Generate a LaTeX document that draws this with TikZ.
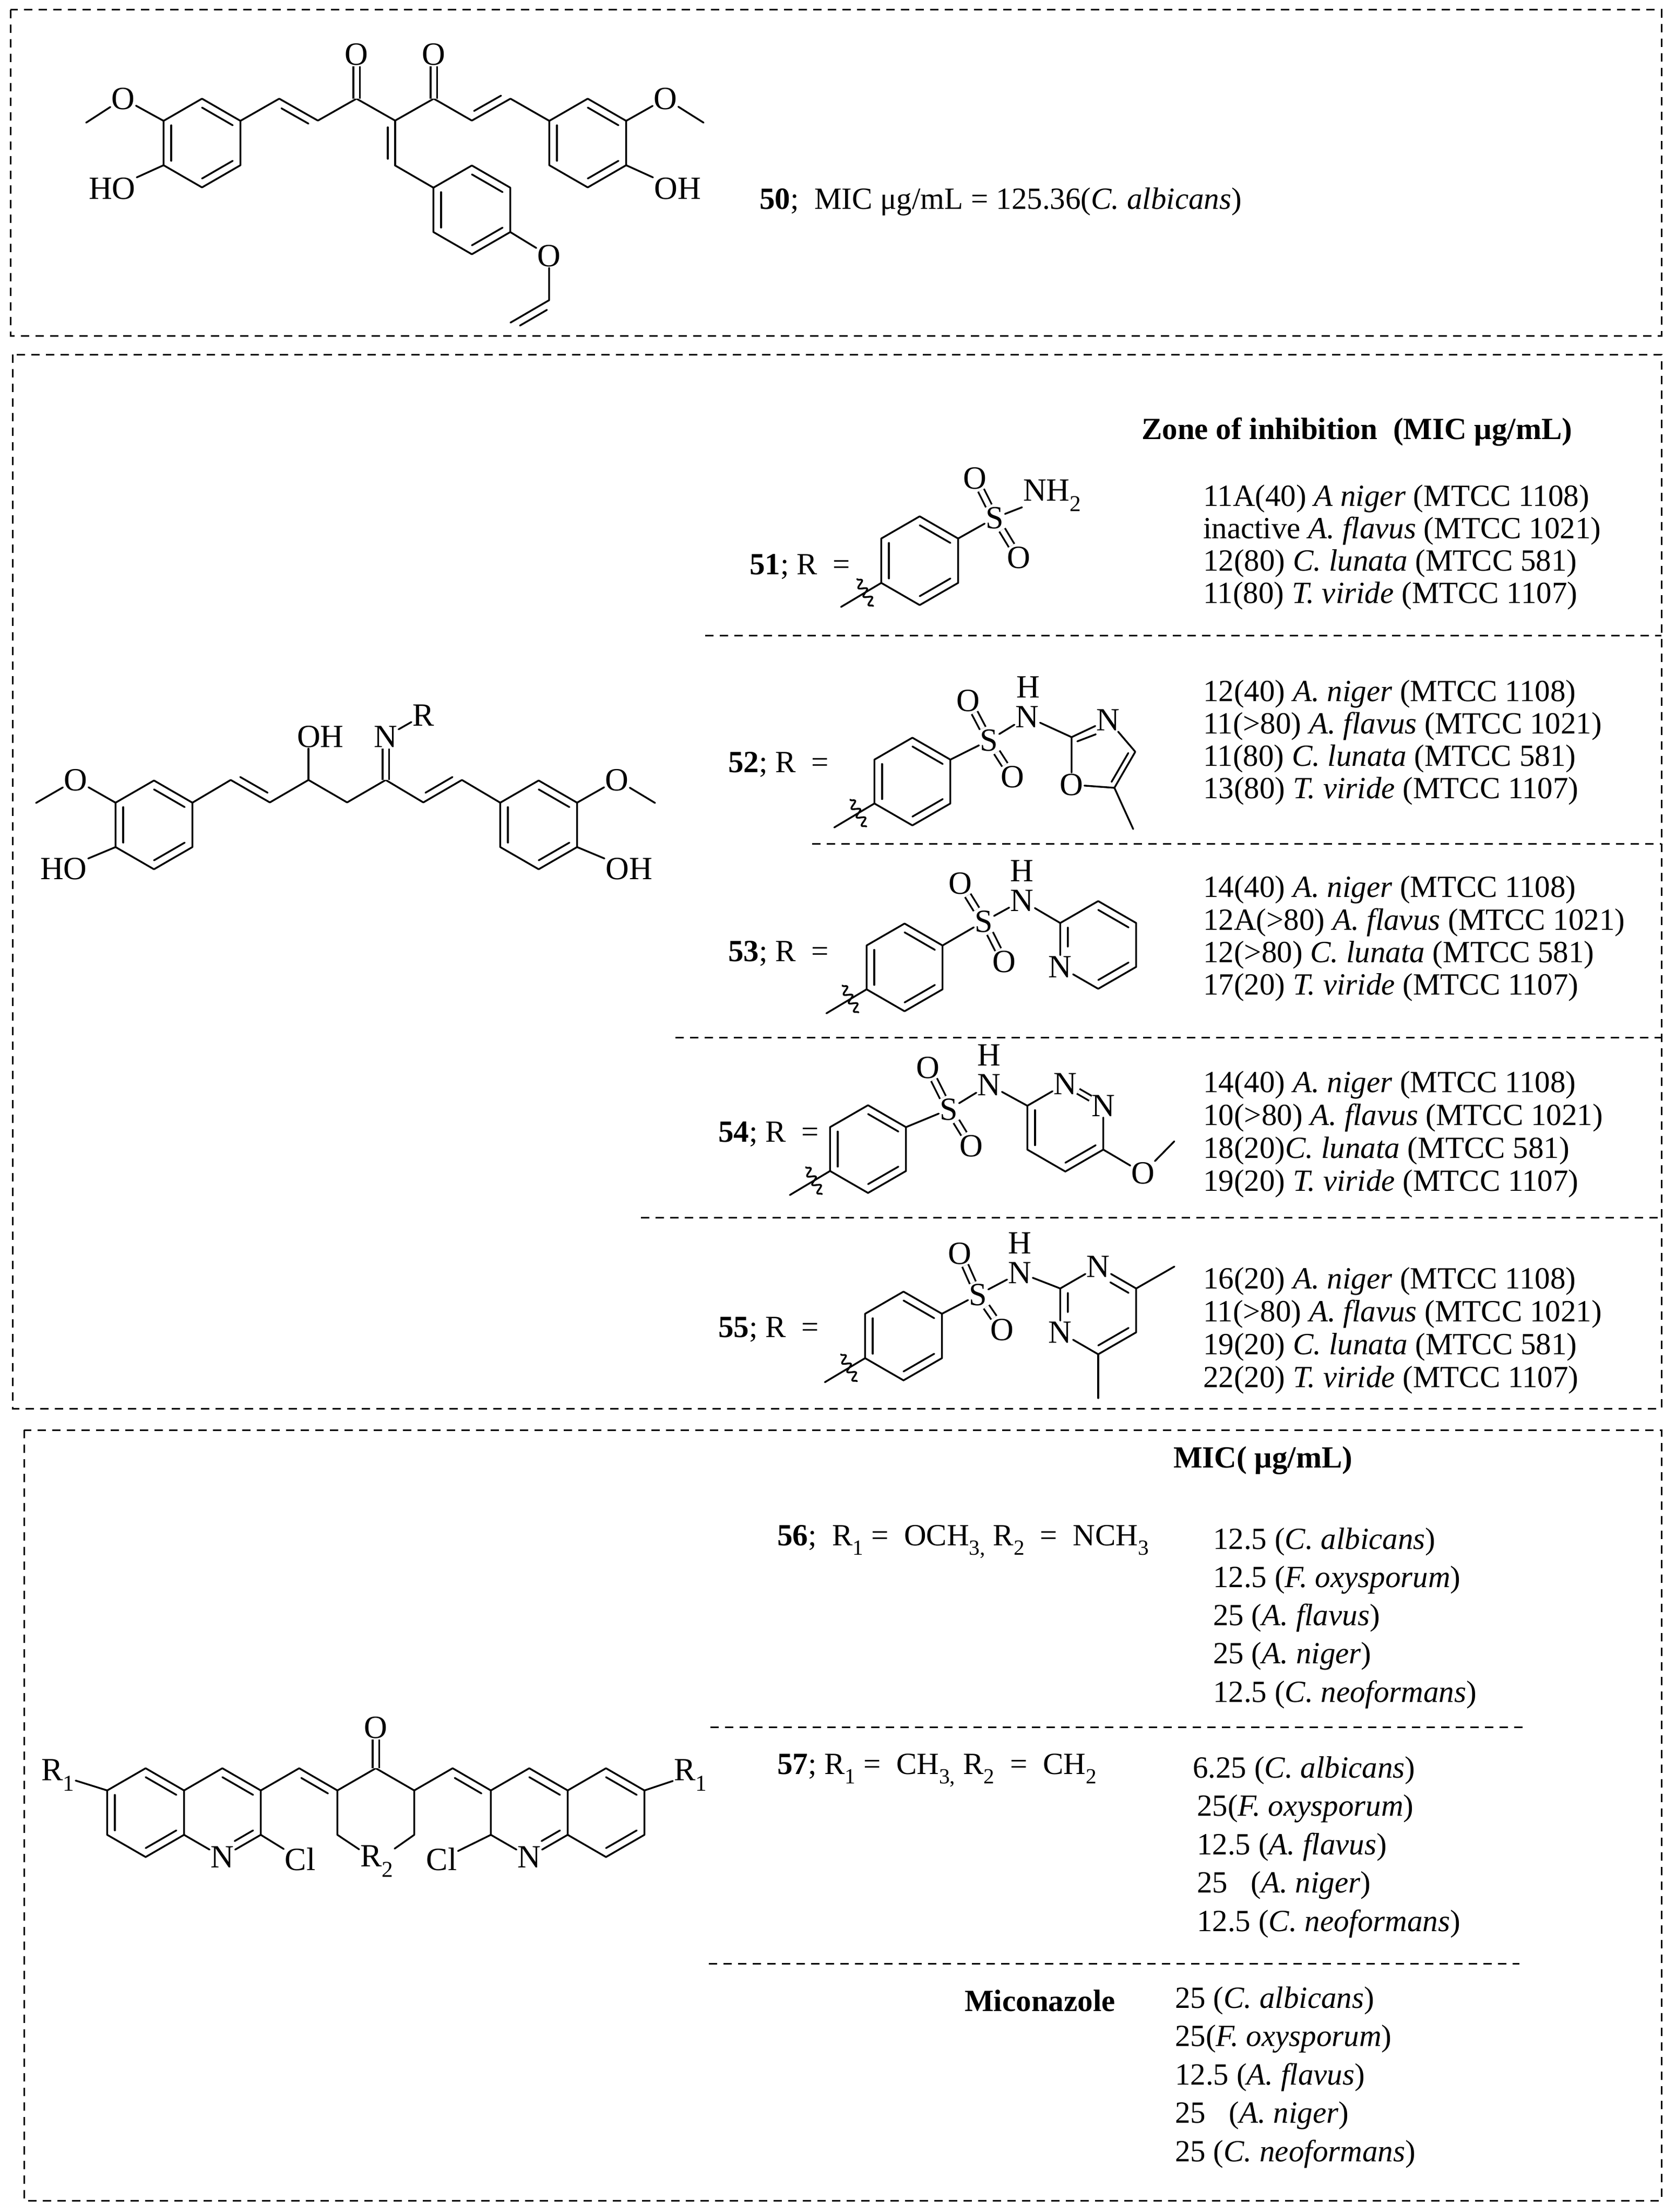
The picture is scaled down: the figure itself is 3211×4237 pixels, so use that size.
\documentclass[tikz,border=0pt]{standalone}
\usepackage{fontspec}
\setmainfont{Liberation Serif}
\usetikzlibrary{calc,decorations.pathmorphing}
\newcommand\af{\fontsize{62}{66}\selectfont}
\newcommand\tf{\fontsize{59}{63}\selectfont}
\newcommand\hexat[4]{%
 \coordinate (#1c) at (#2,#3);
 \coordinate (#11) at ($(#1c)+(0,-#4)$);
 \coordinate (#12) at ($(#1c)+(0.866*#4,-0.5*#4)$);
 \coordinate (#13) at ($(#1c)+(0.866*#4,0.5*#4)$);
 \coordinate (#14) at ($(#1c)+(0,#4)$);
 \coordinate (#15) at ($(#1c)+(-0.866*#4,0.5*#4)$);
 \coordinate (#16) at ($(#1c)+(-0.866*#4,-0.5*#4)$);}
\newcommand\ring[1]{\draw[bond] (#11)--(#12)--(#13)--(#14)--(#15)--(#16)--cycle;}
\newcommand\inb[3]{\draw[bond] ($(#1)!0.2!(#3)$) -- ($(#2)!0.2!(#3)$);}
\newcommand\dside[3]{\draw[bond] ($(#1)!0.15!(#2)!#3!90:(#2)$) -- ($(#2)!0.15!(#1)!#3!-90:(#1)$);}
\newcommand\wavy[1]{%
 \coordinate (#1e) at ($(#15)+(-77,46)$);
 \draw[bond] (#15) -- (#1e);
 \coordinate (#1m) at ($(#15)!0.4!(#1e)$);
 \draw[bond,decorate,decoration={snake,amplitude=7pt,segment length=19pt}] ($(#1m)!30pt!90:(#1e)$) -- ($(#1m)!30pt!-90:(#1e)$);}
\begin{document}
\begin{tikzpicture}[x=1pt,y=-1pt,
 bond/.style={line width=3.4pt,line cap=round,line join=round},
 dbond/.style={bond,double,double distance=9pt,line cap=butt},
 atm/.style={inner sep=2pt,font=\af},
 tx/.style={anchor=west,inner sep=0pt,font=\tf},
 frame/.style={line width=3pt,dash pattern=on 16pt off 12pt},
 sep/.style={line width=3pt,dash pattern=on 16pt off 12pt}]
\useasboundingbox (0,0) rectangle (3211,4237);
\draw[frame] (20,19) rectangle (3183,643);
\draw[frame] (24,679) rectangle (3183,2698);
\draw[frame] (46,2739) rectangle (3183,4215);
% ---------------- compound 50
\hexat{la}{387}{274}{85} \ring{la}
\inb{la1}{la2}{lac} \inb{la6}{la5}{lac} \inb{la3}{la4}{lac}
\node[atm] (olA) at (236,189) {O};
\coordinate (mlA) at (165,235);
\draw[bond] (la6) -- (olA) -- (mlA);
\node[atm] (hoA) at (215,361) {HO};
\draw[bond] (la5) -- (hoA);
\coordinate (b1) at (535,189); \coordinate (b2) at (609,231);
\coordinate (b3) at (683,189); \coordinate (b4) at (757,231);
\coordinate (b5) at (831,189); \coordinate (b6) at (904,231);
\coordinate (b7) at (978,189);
\hexat{ra}{1126}{274}{85} \ring{ra}
\inb{ra1}{ra2}{rac} \inb{ra6}{ra5}{rac} \inb{ra3}{ra4}{rac}
\draw[bond] (la2)--(b1)--(b2)--(b3)--(b4)--(b5)--(b6)--(b7)--(ra6);
\dside{b1}{b2}{-14pt} \dside{b6}{b7}{14pt}
\node[atm] (o1) at (683,104) {O}; \node[atm] (o2) at (831,104) {O};
\draw[dbond] (b3) -- (o1); \draw[dbond] (b5) -- (o2);
\node[atm] (orA) at (1275,189) {O}; \coordinate (mrA) at (1348,235);
\draw[bond] (ra2) -- (orA) -- (mrA);
\node[atm] (ohA) at (1298,361) {OH};
\draw[bond] (ra3) -- (ohA);
\coordinate (b8) at (757,317);
\draw[bond] (b4) -- (b8);
\dside{b4}{b8}{-14pt}
\hexat{ma}{904}{402}{85} \ring{ma}
\inb{ma1}{ma2}{mac} \inb{ma6}{ma5}{mac} \inb{ma3}{ma4}{mac}
\draw[bond] (b8) -- (ma6);
\node[atm] (ovA) at (1052,490) {O};
\coordinate (v1) at (1052,575); \coordinate (v2) at (978,618);
\draw[bond] (ma3) -- (ovA) -- (v1) -- (v2);
\dside{v1}{v2}{14pt}
\node[tx] (t50) at (1455,386) {\textbf{50};\ \ MIC μg/mL = 125.36(\textit{C. albicans})};
% ---------------- middle structure
\hexat{lb}{295}{1580}{85} \ring{lb}
\inb{lb1}{lb2}{lbc} \inb{lb6}{lb5}{lbc} \inb{lb3}{lb4}{lbc}
\node[atm] (olB) at (145,1494) {O}; \coordinate (mlB) at (69,1538);
\draw[bond] (lb6) -- (olB) -- (mlB);
\node[atm] (hoB) at (122,1664) {HO};
\draw[bond] (lb5) -- (hoB);
\coordinate (q1) at (442,1494); \coordinate (q2) at (517,1537);
\coordinate (q3) at (591,1494); \coordinate (q4) at (665,1537);
\coordinate (q5) at (739,1494); \coordinate (q6) at (811,1537);
\coordinate (q7) at (885,1494);
\hexat{rb}{1032}{1580}{85} \ring{rb}
\inb{rb1}{rb2}{rbc} \inb{rb6}{rb5}{rbc} \inb{rb3}{rb4}{rbc}
\draw[bond] (lb2)--(q1)--(q2)--(q3)--(q4)--(q5)--(q6)--(q7)--(rb6);
\dside{q1}{q2}{14pt} \dside{q6}{q7}{14pt}
\node[atm] (ohB) at (614,1411) {OH};
\draw[bond] (q3) -- (q3 |- ohB.south);
\node[atm] (nB) at (739,1411) {N};
\draw[dbond] (q5) -- (nB);
\node[atm] (rB) at (811,1370) {R};
\draw[bond] (nB) -- (rB);
\node[atm] (orB) at (1182,1494) {O}; \coordinate (mrB) at (1255,1538);
\draw[bond] (rb2) -- (orB) -- (mrB);
\node[atm] (ohB2) at (1205,1664) {OH};
\draw[bond] (rb3) -- (ohB2);
% headings and separators box 2
\node[tx] (zh) at (2187,827) {\textbf{Zone of inhibition\ \ (MIC μg/mL)}};
\draw[sep] (1351,1217) -- (3183,1217);
\draw[sep] (1556,1616) -- (3183,1616);
\draw[sep] (1294,1987) -- (3183,1987);
\draw[sep] (1228,2332) -- (3183,2332);
% 51
\node[tx] (l51) at (1436,1086) {\textbf{51}; R\ \ =};
\hexat{sa}{1762}{1074}{85} \ring{sa}
\inb{sa1}{sa2}{sac} \inb{sa3}{sa4}{sac} \inb{sa5}{sa6}{sac}
\wavy{sa}
\node[atm] (s51) at (1906,992) {S};
\node[atm] (oa51) at (1868,916) {O}; \node[atm] (ob51) at (1952,1068) {O};
\node[atm,anchor=west] (n51) at (1958,949) {NH\textsubscript{2}};
\draw[bond] (sa2) -- (s51); \draw[dbond] (s51)--(oa51); \draw[dbond] (s51)--(ob51);
\draw[bond] (s51) -- (n51);
% 52
\node[tx] (l52) at (1395,1464) {\textbf{52}; R\ \ =};
\hexat{sb}{1748}{1497}{84} \ring{sb}
\inb{sb1}{sb2}{sbc} \inb{sb3}{sb4}{sbc} \inb{sb5}{sb6}{sbc}
\wavy{sb}
\node[atm] (s52) at (1895,1418) {S};
\node[atm] (oa52) at (1855,1342) {O}; \node[atm] (ob52) at (1940,1488) {O};
\node[atm] (n52) at (1968,1373) {N}; \node[atm] (h52) at (1970,1316) {H};
\draw[bond] (sb2) -- (s52); \draw[dbond] (s52)--(oa52); \draw[dbond] (s52)--(ob52);
\draw[bond] (s52) -- (n52);
\coordinate (x2) at (2053,1412); \node[atm] (xn3) at (2123,1379) {N};
\coordinate (x4) at (2175,1440); \coordinate (x5) at (2135,1509);
\node[atm] (xo1) at (2053,1503) {O}; \coordinate (xm) at (2171,1588);
\coordinate (xc) at (2108,1452);
\draw[bond] (n52) -- (x2) -- (xn3) -- (x4) -- (x5) -- (xo1) -- (x2);
\draw[bond] (x5) -- (xm);
\draw[bond] ($(x2)!0.2!(xc)$) -- ($(xn3.south west)!0.1!(xc)$);
\inb{x4}{x5}{xc}
% 53
\node[tx] (l53) at (1395,1826) {\textbf{53}; R\ \ =};
\hexat{sc}{1733}{1853}{84} \ring{sc}
\inb{sc1}{sc2}{scc} \inb{sc3}{sc4}{scc} \inb{sc5}{sc6}{scc}
\wavy{sc}
\node[atm] (s53) at (1885,1765) {S};
\node[atm] (oa53) at (1840,1692) {O}; \node[atm] (ob53) at (1924,1842) {O};
\node[atm] (n53) at (1958,1725) {N}; \node[atm] (h53) at (1958,1668) {H};
\draw[bond] (sc2) -- (s53); \draw[dbond] (s53)--(oa53); \draw[dbond] (s53)--(ob53);
\draw[bond] (s53) -- (n53);
\hexat{py}{2104}{1810}{84}
\node[atm] (npy) at (py5) {N};
\draw[bond] (n53) -- (py6) -- (py1) -- (py2) -- (py3) -- (py4) -- (npy) -- (py6);
\inb{py1}{py2}{pyc} \inb{py3}{py4}{pyc}
\draw[bond] ($(py6)!0.2!(pyc)$) -- ($(py6)!0.2!(pyc)!0.55!($(py5)!0.2!(pyc)$)$);
% 54
\node[tx] (l54) at (1376,2173) {\textbf{54}; R\ \ =};
\hexat{sd}{1663}{2201}{84} \ring{sd}
\inb{sd1}{sd2}{sdc} \inb{sd3}{sd4}{sdc} \inb{sd5}{sd6}{sdc}
\wavy{sd}
\node[atm] (s54) at (1818,2125) {S};
\node[atm] (oa54) at (1778,2045) {O}; \node[atm] (ob54) at (1861,2195) {O};
\node[atm] (n54) at (1895,2078) {N}; \node[atm] (h54) at (1895,2021) {H};
\draw[bond] (sd2) -- (s54); \draw[dbond] (s54)--(oa54); \draw[dbond] (s54)--(ob54);
\draw[bond] (s54) -- (n54);
\hexat{pz}{2041}{2160}{84}
\node[atm] (pn1) at (pz1) {N}; \node[atm] (pn2) at (pz2) {N};
\draw[bond] (n54) -- (pz6) -- (pn1); \draw[dbond,double distance=7pt] (pn1) -- (pn2);
\draw[bond] (pn2) -- (pz3) -- (pz4) -- (pz5) -- (pz6);
\inb{pz6}{pz5}{pzc} \inb{pz3}{pz4}{pzc}
\node[atm] (po54) at (2190,2247) {O}; \coordinate (pm54) at (2250,2186);
\draw[bond] (pz3) -- (po54) -- (pm54);
% 55
\node[tx] (l55) at (1376,2547) {\textbf{55}; R\ \ =};
\hexat{se}{1731}{2559}{85} \ring{se}
\inb{se1}{se2}{sec} \inb{se3}{se4}{sec} \inb{se5}{se6}{sec}
\wavy{se}
\node[atm] (s55) at (1874,2480) {S};
\node[atm] (oa55) at (1839,2401) {O}; \node[atm] (ob55) at (1920,2547) {O};
\node[atm] (n55) at (1954,2438) {N}; \node[atm] (h55) at (1954,2381) {H};
\draw[bond] (se2) -- (s55); \draw[dbond] (s55)--(oa55); \draw[dbond] (s55)--(ob55);
\draw[bond] (s55) -- (n55);
\hexat{pm}{2104}{2510}{84}
\node[atm] (pmn1) at (pm1) {N}; \node[atm] (pmn3) at (pm5) {N};
\draw[bond] (n55) -- (pm6) -- (pmn1) -- (pm2) -- (pm3) -- (pm4) -- (pmn3) -- (pm6);
\coordinate (me1) at (2250,2426); \coordinate (me2) at (2104,2678);
\draw[bond] (pm2) -- (me1); \draw[bond] (pm4) -- (me2);
\inb{pm3}{pm4}{pmc}
\draw[bond] ($(pm6)!0.2!(pmc)$) -- ($(pm6)!0.2!(pmc)!0.55!($(pm5)!0.2!(pmc)$)$);
\draw[bond] ($(pm2)!0.2!(pmc)$) -- ($(pm2)!0.2!(pmc)!0.6!($(pm1)!0.2!(pmc)$)$);
% data lines box 2
\foreach \t [count=\i] in {11A(40) \textit{A niger} (MTCC 1108), inactive \textit{A. flavus} (MTCC 1021), 12(80) \textit{C. lunata} (MTCC 581), 11(80) \textit{T. viride} (MTCC 1107)}
 \node[tx] (d51\i) at (2305,{955+62*(\i-1)}) {\t};
\foreach \t [count=\i] in {12(40) \textit{A. niger} (MTCC 1108), 11(>80) \textit{A. flavus} (MTCC 1021), 11(80) \textit{C. lunata} (MTCC 581), 13(80) \textit{T. viride} (MTCC 1107)}
 \node[tx] (d52\i) at (2305,{1329+62*(\i-1)}) {\t};
\foreach \t [count=\i] in {14(40) \textit{A. niger} (MTCC 1108), 12A(>80) \textit{A. flavus} (MTCC 1021), 12(>80) \textit{C. lunata} (MTCC 581), 17(20) \textit{T. viride} (MTCC 1107)}
 \node[tx] (d53\i) at (2305,{1704+62.5*(\i-1)}) {\t};
\foreach \t [count=\i] in {14(40) \textit{A. niger} (MTCC 1108), 10(>80) \textit{A. flavus} (MTCC 1021), 18(20)\textit{C. lunata} (MTCC 581), 19(20) \textit{T. viride} (MTCC 1107)}
 \node[tx] (d54\i) at (2305,{2078+63*(\i-1)}) {\t};
\foreach \t [count=\i] in {16(20) \textit{A. niger} (MTCC 1108), 11(>80) \textit{A. flavus} (MTCC 1021), 19(20) \textit{C. lunata} (MTCC 581), 22(20) \textit{T. viride} (MTCC 1107)}
 \node[tx] (d55\i) at (2305,{2454+63*(\i-1)}) {\t};
% ---------------- box 3 structure
\hexat{qa}{279}{3472}{85} \ring{qa}
\inb{qa1}{qa2}{qac} \inb{qa6}{qa5}{qac} \inb{qa3}{qa4}{qac}
\hexat{qb}{426}{3472}{85}
\node[atm] (qn) at (qb4) {N};
\draw[bond] (qa2) -- (qb1) -- (qb2) -- (qb3) -- (qn) -- (qa3);
\inb{qb1}{qb2}{qbc}
\draw[bond] ($(qb3)!0.2!(qbc)$) -- ($(qb3)!0.2!(qbc)!0.6!($(qb4)!0.2!(qbc)$)$);
\node[atm] (qcl) at (575,3561) {Cl};
\draw[bond] (qb3) -- (qcl);
\node[atm] (qr1) at (111,3400) {R\textsubscript{1}};
\draw[bond] (qa6) -- (qr1);
\hexat{qk}{720}{3472}{85}
\coordinate (qx1) at ($(qb2)+(73.6,-42.5)$);
\coordinate (qx2) at ($(qk2)+(73.6,-42.5)$);
\node[atm] (qo) at (720,3309) {O};
\node[atm] (qr2) at (722,3565) {R\textsubscript{2}};
\draw[bond] (qb2) -- (qx1) -- (qk6) -- (qk1) -- (qk2) -- (qk3) -- (qr2) -- (qk5) -- (qk6);
\draw[bond] (qk2) -- (qx2);
\dside{qx1}{qk6}{-14pt}
\draw[dbond] (qk1) -- (qo);
\hexat{qp}{1014}{3472}{85}
\hexat{qq}{1161}{3472}{85}
\node[atm] (qn2) at (qp4) {N};
\draw[bond] (qx2) -- (qp6) -- (qp1) -- (qp2) -- (qp3) -- (qn2) -- (qp5) -- (qp6);
\dside{qx2}{qp6}{-14pt}
\inb{qp1}{qp2}{qpc}
\draw[bond] ($(qp3)!0.2!(qpc)$) -- ($(qp3)!0.2!(qpc)!0.6!($(qp4)!0.2!(qpc)$)$);
\node[atm] (qcl2) at (846,3561) {Cl};
\draw[bond] (qp5) -- (qcl2);
\draw[bond] (qp2) -- (qq1) -- (qq2) -- (qq3) -- (qq4) -- (qp3);
\inb{qq1}{qq2}{qqc} \inb{qq3}{qq4}{qqc}
\node[atm] (qr3) at (1323,3400) {R\textsubscript{1}};
\draw[bond] (qq2) -- (qr3);
% box 3 text
\node[tx] (mich) at (2248,2798) {\textbf{MIC( μg/mL)}};
\node[tx] (l56) at (1489,2953) {\textbf{56};\ \ R\textsubscript{1} =\ \ OCH\textsubscript{3,} R\textsubscript{2}\ \ =\ \ NCH\textsubscript{3}};
\node[tx] (l57) at (1489,3391) {\textbf{57}; R\textsubscript{1} =\ \ CH\textsubscript{3,} R\textsubscript{2}\ \ =\ \ CH\textsubscript{2}};
\node[tx] (lmic) at (1848,3832) {\textbf{Miconazole}};
\draw[sep] (1361,3308) -- (2927,3308);
\draw[sep] (1358,3761) -- (2911,3761);
\foreach \t [count=\i] in {12.5 (\textit{C. albicans}), 12.5 (\textit{F. oxysporum}), 25 (\textit{A. flavus}), 25 (\textit{A. niger}), 12.5 (\textit{C. neoformans})}
 \node[tx] (d56\i) at (2324,{2953+73.2*(\i-1)}) {\t};
\node[tx] (d571) at (2285,3391) {6.25 (\textit{C. albicans})};
\foreach \t [count=\i from 2] in {25(\textit{F. oxysporum}), 12.5 (\textit{A. flavus}), 25\ \ \ (\textit{A. niger}), 12.5 (\textit{C. neoformans})}
 \node[tx] (d57\i) at (2293,{3391+73.5*(\i-1)}) {\t};
\foreach \t [count=\i] in {25 (\textit{C. albicans}), 25(\textit{F. oxysporum}), 12.5 (\textit{A. flavus}), 25\ \ \ (\textit{A. niger}), 25 (\textit{C. neoformans})}
 \node[tx] (dm\i) at (2251,{3832+73.5*(\i-1)}) {\t};
\end{tikzpicture}
\end{document}
